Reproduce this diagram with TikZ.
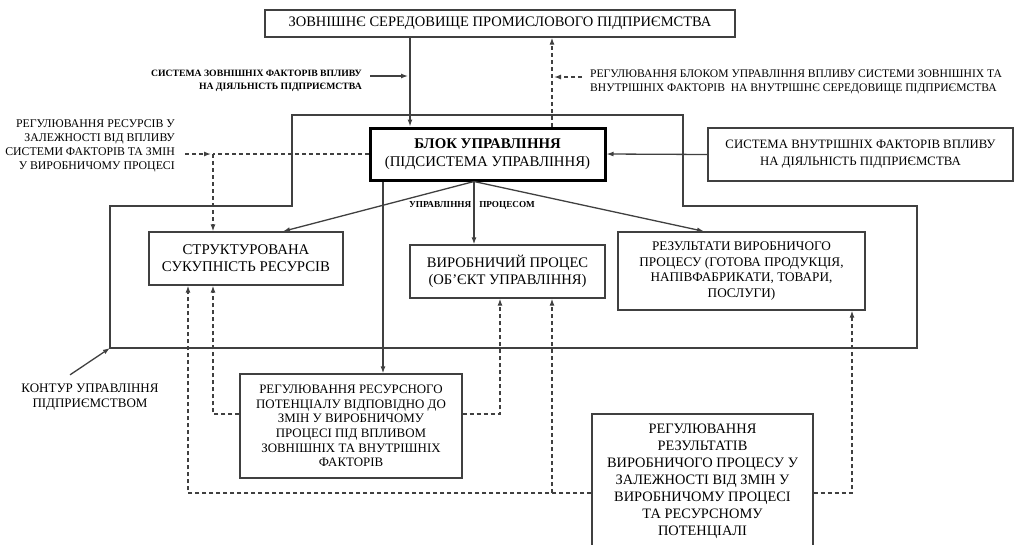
\documentclass[tikz,border=0pt]{standalone}
\usepackage{fontspec}
\setmainfont{Liberation Serif}
\usetikzlibrary{arrows.meta}
\newcommand{\fsz}[2]{\fontsize{#1}{#2}\selectfont}

\begin{document}
\begin{tikzpicture}[x=1pt, y=-1pt, >={Latex[length=7pt,width=5pt]},
            box/.style={draw=black!75, line width=1.3pt, align=center, inner sep=0pt},
            lbl/.style={inner sep=0pt},
            con/.style={draw=black!75, line width=1.3pt},
            dsh/.style={con, dash pattern=on 4pt off 3pt}]
            \useasboundingbox (0,0) rectangle (1015,544);

            % boxes
            \node[box, minimum width=470pt, minimum height=27pt, font=\fsz{14.5}{16}] (env) at (500,23.5)
                {ЗОВНІШНЄ СЕРЕДОВИЩЕ ПРОМИСЛОВОГО ПІДПРИЄМСТВА};
            \node[box, draw=black, line width=3pt, minimum width=235pt, minimum height=52pt, font=\fsz{14.8}{18}] (blok) at (487.5,154)
                {\textbf{БЛОК УПРАВЛІННЯ}\\(ПІДСИСТЕМА УПРАВЛІННЯ)};
            \node[box, minimum width=305pt, minimum height=53pt, font=\fsz{12.8}{17}] (vnutr) at (860.5,154.5)
                {СИСТЕМА ВНУТРІШНІХ ФАКТОРІВ ВПЛИВУ\\НА ДІЯЛЬНІСТЬ ПІДПРИЄМСТВА};
            \node[box, minimum width=194pt, minimum height=53pt, font=\fsz{14.8}{17}] (strukt) at (246,258.5)
                {СТРУКТУРОВАНА\\СУКУПНІСТЬ РЕСУРСІВ};
            \node[box, minimum width=195pt, minimum height=53pt, font=\fsz{14.6}{17}] (vyrob) at (507.5,271.5)
                {ВИРОБНИЧИЙ ПРОЦЕС\\(ОБ’ЄКТ УПРАВЛІННЯ)};
            \node[box, minimum width=247pt, minimum height=78pt, font=\fsz{13.2}{15.5}] (rezult) at (741.5,271)
                {РЕЗУЛЬТАТИ ВИРОБНИЧОГО\\ПРОЦЕСУ (ГОТОВА ПРОДУКЦІЯ,\\НАПІВФАБРИКАТИ, ТОВАРИ,\\ПОСЛУГИ)};
            \node[box, minimum width=222pt, minimum height=104pt, font=\fsz{12.9}{14.6}] (regres) at (351,426)
                {РЕГУЛЮВАННЯ РЕСУРСНОГО\\ПОТЕНЦІАЛУ ВІДПОВІДНО ДО\\ЗМІН У ВИРОБНИЧОМУ\\ПРОЦЕСІ ПІД ВПЛИВОМ\\ЗОВНІШНІХ ТА ВНУТРІШНІХ\\ФАКТОРІВ};
            \node[box, minimum width=221pt, minimum height=134pt, font=\fsz{14.4}{17}] (regrez) at (702.5,481)
                {РЕГУЛЮВАННЯ\\РЕЗУЛЬТАТІВ\\ВИРОБНИЧОГО ПРОЦЕСУ У\\ЗАЛЕЖНОСТІ ВІД ЗМІН У\\ВИРОБНИЧОМУ ПРОЦЕСІ\\ТА РЕСУРСНОМУ\\ПОТЕНЦІАЛІ};

            % free labels
            \node[lbl, align=right, anchor=north east, font=\bfseries\fsz{9.7}{13}] (extf) at (362,70)
                {СИСТЕМА ЗОВНІШНІХ ФАКТОРІВ ВПЛИВУ\\НА ДІЯЛЬНІСТЬ ПІДПРИЄМСТВА};
            \node[lbl, align=left, anchor=north west, font=\fsz{11.6}{13.5}] (regbl) at (590,70)
                {РЕГУЛЮВАННЯ БЛОКОМ УПРАВЛІННЯ ВПЛИВУ СИСТЕМИ ЗОВНІШНІХ ТА\\ВНУТРІШНІХ ФАКТОРІВ\ \ НА ВНУТРІШНЄ СЕРЕДОВИЩЕ ПІДПРИЄМСТВА};
            \node[lbl, align=right, anchor=east, font=\fsz{11.8}{14}] (regl) at (175,146)
                {РЕГУЛЮВАННЯ РЕСУРСІВ У\\ЗАЛЕЖНОСТІ ВІД ВПЛИВУ\\СИСТЕМИ ФАКТОРІВ ТА ЗМІН\\У ВИРОБНИЧОМУ ПРОЦЕСІ};
            \node[lbl, align=center, font=\fsz{13}{14.5}] (kontur) at (90,397)
                {КОНТУР УПРАВЛІННЯ\\ПІДПРИЄМСТВОМ};
            \node[lbl, font=\bfseries\fsz{9.2}{10}] (upr) at (472,205) {УПРАВЛІННЯ\hspace{8pt}ПРОЦЕСОМ};

            % control contour
            \draw[con] (292,115) -- (683,115) -- (683,206) -- (917,206) -- (917,348)
                -- (110,348) -- (110,206) -- (292,206) -- cycle;
            \coordinate (kc) at (110,348);
            \draw[con,->] ([xshift=-20pt,yshift=9pt]kontur.north) -- (kc);

            % environment links
            \coordinate (ea) at (410,76);
            \coordinate (rb) at (552,77);
            \draw[con,->] (env.south -| ea) -- (blok.north -| ea);
            \draw[con,->] ([xshift=8pt]extf.east |- ea) -- ([xshift=-2pt]ea);
            \draw[dsh,->] (blok.north -| rb) -- (env.south -| rb);
            \draw[dsh,->] ([xshift=-8pt]regbl.west |- rb) -- ([xshift=2pt]rb);
            \draw[con,->] (vnutr.west) -- (blok.east);

            % control of resources
            \coordinate (jl) at (213,154);
            \draw[dsh] (blok.west) -- (jl);
            \draw[dsh,->] (jl) -- (jl |- strukt.north);
            \draw[dsh,->] ([xshift=10pt]regl.east |- jl) -- ([xshift=-2pt]jl);

            % control block outputs
            \draw[con,->] (474,0 |- blok.south) -- (283,0 |- strukt.north);
            \draw[con,->] (474,0 |- blok.south) -- (474,0 |- vyrob.north);
            \draw[con,->] (474,0 |- blok.south) -- (704,0 |- rezult.north);
            \draw[con,->] (383,0 |- blok.south) -- (383,0 |- regres.north);

            % feedback from regulation
            \coordinate (jr) at (552,493);
            \draw[dsh,->] (regres.west |- 0,414) -| (213,0 |- strukt.south);
            \draw[dsh,->] (regres.east |- 0,414) -| (500,0 |- vyrob.south);
            \draw[dsh,->] (regrez.west |- jr) -| (188,0 |- strukt.south);
            \draw[dsh,->] (jr) -- (jr |- vyrob.south);
            \draw[dsh,->] (regrez.east |- jr) -| (852,0 |- rezult.south);
        \end{tikzpicture}
\end{document}
